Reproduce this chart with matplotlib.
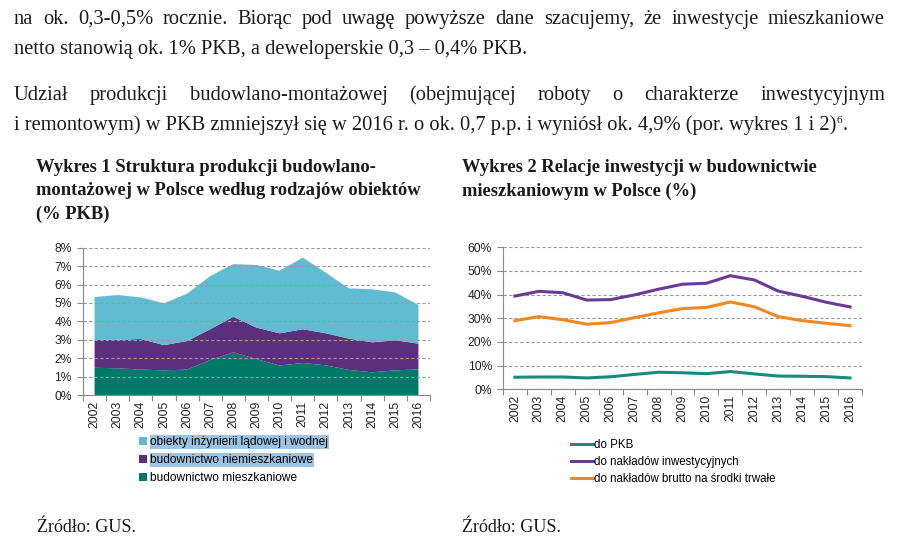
import matplotlib
matplotlib.use('Agg')
import matplotlib.pyplot as plt
from matplotlib.patches import Patch
from matplotlib.lines import Line2D
from matplotlib.ticker import FixedLocator, FuncFormatter
import numpy as np

# ---------------- data ----------------
years = [str(y) for y in range(2002, 2017)]

# Wykres 1 (% PKB), stacked layers
mieszkaniowe = [1.48, 1.45, 1.38, 1.34, 1.38, 1.90, 2.32, 1.95, 1.60, 1.74, 1.61, 1.36, 1.23, 1.34, 1.39]
niemieszkaniowe = [1.52, 1.55, 1.66, 1.37, 1.55, 1.67, 1.93, 1.71, 1.75, 1.83, 1.74, 1.70, 1.63, 1.63, 1.40]
obiekty = [2.32, 2.43, 2.26, 2.27, 2.57, 2.89, 2.86, 3.40, 3.40, 3.89, 3.29, 2.73, 2.88, 2.60, 2.10]
labels1 = ["obiekty inżynierii lądowej i wodnej", "budownictwo niemieszkaniowe", "budownictwo mieszkaniowe"]
yticks1 = [0, 1, 2, 3, 4, 5, 6, 7, 8]

# Wykres 2 (%)
do_pkb = [5.1, 5.2, 5.2, 4.8, 5.3, 6.3, 7.2, 7.0, 6.6, 7.5, 6.5, 5.6, 5.5, 5.35, 4.8]
do_inwest = [39.4, 41.4, 40.8, 37.7, 37.9, 39.9, 42.3, 44.4, 44.8, 48.0, 46.2, 41.5, 39.3, 36.8, 34.8]
do_brutto = [29.0, 30.7, 29.4, 27.5, 28.2, 30.3, 32.3, 34.1, 34.6, 36.9, 34.9, 30.7, 29.0, 27.9, 26.9]
labels2 = ["do PKB", "do nakładów inwestycyjnych", "do nakładów brutto na środki trwałe"]
yticks2 = [0, 10, 20, 30, 40, 50, 60]

# ---------------- styling ----------------
W, H = 900, 547
C_LBLUE = '#5FBCD3'
C_PURPLE = '#5C2E7E'
C_TEAL = '#00796B'
C_LINE_TEAL = '#158C7C'
C_LINE_PURPLE = '#6A3A96'
C_ORANGE = '#F5871F'
SERIF = ['Liberation Serif', 'DejaVu Serif']
SANS = ['Liberation Sans', 'DejaVu Sans']

fig = plt.figure(figsize=(W / 100, H / 100), dpi=100)
renderer = fig.canvas.get_renderer()


def fx(px):
    return px / W


def fy(py):
    return 1 - py / H


def text_width(s, **kw):
    t = fig.text(0, 0, s, **kw)
    w = t.get_window_extent(renderer).width
    t.remove()
    return w


def fit_size(s, target, **kw):
    w = text_width(s, fontsize=10, **kw)
    return 10 * target / w


def justify(line, x0, x1, y, **kw):
    words = line.split(' ')
    widths = [text_width(w, **kw) for w in words]
    gap = (x1 - x0 - sum(widths)) / (len(words) - 1)
    x = x0
    for w, wd in zip(words, widths):
        fig.text(fx(x), fy(y), w, va='baseline', ha='left', **kw)
        x += wd + gap


# ---------------- body text ----------------
body_fs = fit_size("netto stanowią ok. 1% PKB, a deweloperskie 0,3 – 0,4% PKB.", 513, family=SERIF)
bkw = dict(family=SERIF, fontsize=body_fs, color='#1a1a1a')
justify("na ok. 0,3-0,5% rocznie. Biorąc pod uwagę powyższe dane szacujemy, że inwestycje mieszkaniowe",
        14, 885, 24, **bkw)
fig.text(fx(14), fy(54), "netto stanowią ok. 1% PKB, a deweloperskie 0,3 – 0,4% PKB.", va='baseline', **bkw)
justify("Udział produkcji budowlano-montażowej (obejmującej roboty o charakterze inwestycyjnym",
        14, 885, 100, **bkw)
l4 = "i remontowym) w PKB zmniejszył się w 2016 r. o ok. 0,7 p.p. i wyniósł ok. 4,9% (por. wykres 1 i 2)"
fig.text(fx(14), fy(130), l4, va='baseline', **bkw)
w4 = text_width(l4, **bkw)
fig.text(fx(14 + w4 + 0.5), fy(123), "6", va='baseline', family=SERIF, fontsize=body_fs * 0.55, color='#1a1a1a')
w6 = text_width("6", family=SERIF, fontsize=body_fs * 0.55)
fig.text(fx(14 + w4 + w6 + 1), fy(130), ".", va='baseline', **bkw)

# ---------------- chart titles ----------------
tfs = fit_size("Wykres 2 Relacje inwestycji w budownictwie", 354, family=SERIF, fontweight='bold')
tkw = dict(family=SERIF, fontsize=tfs, fontweight='bold', color='#1a1a1a', va='baseline')
for i, s in enumerate(["Wykres 1 Struktura produkcji budowlano-",
                       "montażowej w Polsce według rodzajów obiektów",
                       "(% PKB)"]):
    fig.text(fx(36), fy(172 + 23.5 * i), s, **tkw)
for i, s in enumerate(["Wykres 2 Relacje inwestycji w budownictwie",
                       "mieszkaniowym w Polsce (%)"]):
    fig.text(fx(462), fy(172 + 23.5 * i), s, **tkw)

sfs = fit_size("Źródło: GUS.", 99, family=SERIF)
fig.text(fx(37), fy(531.5), "Źródło: GUS.", family=SERIF, fontsize=sfs, va='baseline', color='#1a1a1a')
fig.text(fx(462), fy(531.5), "Źródło: GUS.", family=SERIF, fontsize=sfs, va='baseline', color='#1a1a1a')


# ---------------- axes helper ----------------
def style_axes(ax, yticks, ymax):
    n = len(years)
    x = np.arange(n)
    ax.set_xlim(-0.5, n - 0.5)
    ax.set_ylim(0, ymax)
    ax.set_yticks(yticks)
    ax.yaxis.set_major_formatter(FuncFormatter(lambda v, p: f"{v:.0f}%"))
    ax.set_xticks(x)
    ax.set_xticklabels(years, rotation=90, family=SANS, fontsize=8.7, color='#222222')
    ax.xaxis.set_minor_locator(FixedLocator(np.arange(-0.5, n, 1.0)))
    ax.tick_params(axis='x', which='major', length=0, pad=4)
    ax.tick_params(axis='x', which='minor', length=4, color='#888888', width=0.8)
    ax.tick_params(axis='y', length=4, color='#888888', width=0.8, labelsize=8.7, labelcolor='#222222', pad=4)
    for lab in ax.get_yticklabels():
        lab.set_family(SANS)
    ax.grid(axis='y', linestyle=(0, (3, 2)), color='#9a9a9a', linewidth=0.8)
    ax.set_axisbelow(True)
    for s in ['top', 'right']:
        ax.spines[s].set_visible(False)
    for s in ['left', 'bottom']:
        ax.spines[s].set_color('#888888')
        ax.spines[s].set_linewidth(0.8)
    ax.set_facecolor('none')


# Chart 1
ax1 = fig.add_axes([fx(83), fy(395), (430 - 83) / W, (395 - 247.7) / H])
x = np.arange(len(years))
ax1.stackplot(x, mieszkaniowe, niemieszkaniowe, obiekty, colors=[C_TEAL, C_PURPLE, C_LBLUE], linewidth=0)
style_axes(ax1, yticks1, 8)
ax1.grid(axis='y', linestyle=(0, (3, 2)), color='#9a9a9a', linewidth=0.8, zorder=3)
ax1.set_axisbelow(False)

h1 = [Patch(facecolor=C_LBLUE, edgecolor='none'),
      Patch(facecolor=C_PURPLE, edgecolor='none'),
      Patch(facecolor=C_TEAL, edgecolor='none')]
leg1 = fig.legend(h1, labels1, loc='upper left', bbox_to_anchor=(fx(139), fy(436)),
                  frameon=False, handlelength=0.7, handleheight=0.7, handletextpad=0.25,
                  labelspacing=0.5, borderpad=0, borderaxespad=0,
                  prop={'family': SANS, 'size': 8.6})
for t in leg1.get_texts()[:2]:
    t.set_bbox(dict(facecolor='#9DC3E3', edgecolor='none', pad=0.6))

# Chart 2
ax2 = fig.add_axes([fx(503), fy(389.3), (862 - 503) / W, (389.3 - 247.3) / H])
ax2.plot(x, do_pkb, color=C_LINE_TEAL, linewidth=2.2)
ax2.plot(x, do_inwest, color=C_LINE_PURPLE, linewidth=2.2)
ax2.plot(x, do_brutto, color=C_ORANGE, linewidth=2.2)
style_axes(ax2, yticks2, 60)

h2 = [Line2D([], [], color=C_LINE_TEAL, linewidth=2.2),
      Line2D([], [], color=C_LINE_PURPLE, linewidth=2.2),
      Line2D([], [], color=C_ORANGE, linewidth=2.2)]
fig.legend(h2, labels2, loc='upper left', bbox_to_anchor=(fx(571), fy(439)),
           frameon=False, handlelength=1.9, handletextpad=0.1,
           labelspacing=0.45, borderpad=0, borderaxespad=0,
           prop={'family': SANS, 'size': 8.3})

fig.savefig('out.png', dpi=100)
